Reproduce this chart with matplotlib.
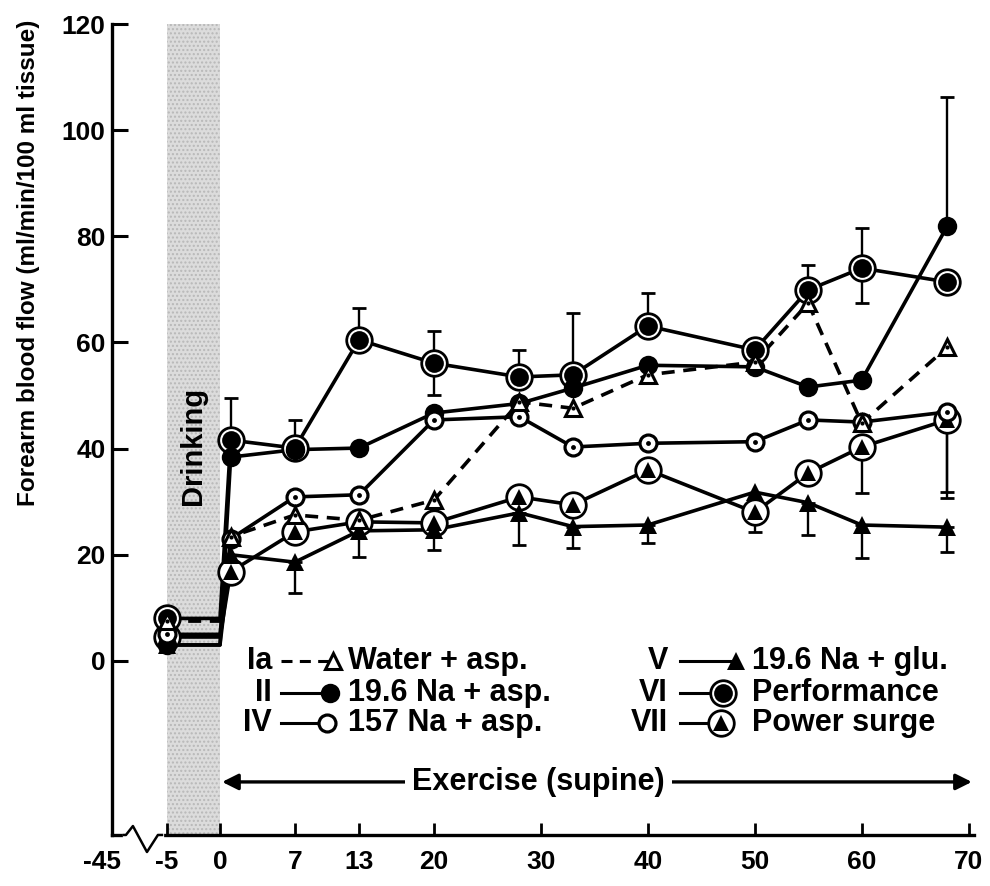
# Flujo sanguíneo del antebrazo durante ejercicio en supino

import numpy as np
import matplotlib
matplotlib.use('Agg')
import matplotlib.pyplot as plt

plt.rcParams['font.family'] = ['Liberation Sans', 'DejaVu Sans']
plt.rcParams['font.weight'] = 'bold'

# Datos

tiempo = [-5, 0, 1, 7, 13, 20, 28, 33, 40, 50, 55, 60, 68]

flujo_Ia = [7.5, 7.5, 23.4, 27.5, 26.5, 30.3, 48.8, 47.6, 53.9, 56.3, 67.4, 44.8, 59.1]
flujo_II = [3.0, 3.0, 38.4, 39.8, 40.1, 46.7, 48.5, 51.4, 55.7, 55.4, 51.6, 52.9, 81.9]
flujo_IV = [5.0, 5.0, 23.0, 30.9, 31.3, 45.4, 46.0, 40.3, 41.0, 41.3, 45.4, 45.0, 46.9]
flujo_V = [3.0, 3.0, 20.0, 18.6, 24.5, 24.7, 27.9, 25.3, 25.6, 31.8, 29.8, 25.6, 25.2]
flujo_VI = [8.0, 8.0, 41.6, 40.1, 60.5, 56.1, 53.5, 53.9, 63.1, 58.6, 69.9, 74.0, 71.4]
flujo_VII = [4.5, 4.5, 16.8, 24.3, 26.2, 26.0, 30.9, 29.4, 36.0, 28.0, 35.4, 40.3, 45.4]

# errores (inferior, superior); 0 = sin barra visible
err_VI_sup = [0, 0, 7.9, 5.2, 6.0, 6.0, 5.0, 11.6, 6.2, 2.0, 4.7, 7.5, 0]
err_VI_inf = [0, 0, 0, 0, 0, 6.0, 0, 0, 0, 0, 0, 6.6, 0]
err_II_sup = [0, 0, 0, 0, 0, 0, 0, 0, 0, 0, 0, 0, 24.3]
err_V_inf = [0, 0, 0, 5.8, 4.9, 3.8, 6.1, 4.0, 3.4, 0, 6.1, 6.2, 4.7]
err_VII_inf = [0, 0, 0, 0, 0, 0, 0, 0, 0, 3.7, 0, 8.7, 13.6]
err_IV_inf = [0, 0, 0, 0, 0, 0, 0, 0, 0, 0, 0, 0, 16.2]

ticks_x = [-45, -5, 0, 7, 13, 20, 30, 40, 50, 60, 70]
ticks_y = [0, 20, 40, 60, 80, 100, 120]

grupos = ['Ia', 'II', 'IV', 'V', 'VI', 'VII']
nombres = ['Water + asp.', '19.6 Na + asp.', '157 Na + asp.',
           '19.6 Na + glu.', 'Performance', 'Power surge']

# Escala con corte entre -45 y -5
k = 0.1275


def adelante(x):
    x = np.asarray(x, dtype=float)
    return np.where(x >= -5, x, -5 + (x + 5) * k)


def atras(t):
    t = np.asarray(t, dtype=float)
    return np.where(t >= -5, t, -5 + (t + 5) / k)


fig = plt.figure(figsize=(9.9, 8.86), dpi=100)
ax = fig.add_axes([0.1131, 0.0576, 0.8707, 0.9153])
ax.set_xscale('function', functions=(adelante, atras))
ax.set_xlim(-45, 70.5)
ax.set_ylim(-32.8, 120)

LW = 2.6
con_marca = [i for i in range(len(tiempo)) if tiempo[i] != 0]


def marcas(ax, y, estilo, z):
    xs = [tiempo[i] for i in con_marca]
    ys = [y[i] for i in con_marca]
    for m in estilo:
        ax.plot(xs, ys, ls='none', zorder=z, **m)


def barras(ax, y, inf, sup):
    idx = [i for i in range(len(tiempo)) if inf[i] > 0 or sup[i] > 0]
    if not idx:
        return
    ax.errorbar([tiempo[i] for i in idx], [y[i] for i in idx],
                yerr=[[inf[i] for i in idx], [sup[i] for i in idx]],
                fmt='none', ecolor='k', elinewidth=1.7, capsize=5, capthick=2.0,
                zorder=2.8)


# estilos de marcador
anillo = dict(marker='o', ms=18.4, mfc='white', mec='k', mew=2.0)
est_VI = [anillo, dict(marker='o', ms=13.5, mfc='k', mec='k', mew=0)]
est_VII = [anillo, dict(marker='^', ms=11, mfc='k', mec='k', mew=0)]
est_II = [dict(marker='o', ms=14, mfc='k', mec='k', mew=0)]
est_V = [dict(marker='^', ms=13, mfc='k', mec='k', mew=0)]
est_IV = [dict(marker='o', ms=12.2, mfc='white', mec='k', mew=2.3),
          dict(marker='o', ms=3.5, mfc='k', mec='k', mew=0)]
est_Ia = [dict(marker='^', ms=11, mfc='white', mec='k', mew=2.2),
          dict(marker='o', ms=3, mfc='k', mec='k', mew=0)]

# zona de bebida
ax.axvspan(-5, 0, facecolor='#dcdcdc', edgecolor='#b8b8b8', hatch='....',
           lw=0, zorder=0)
ax.text(-2.5, 40.5, 'Drinking', rotation=90, ha='center', va='center',
        fontsize=21, zorder=1)

# líneas
for y in [flujo_II, flujo_IV, flujo_V, flujo_VI, flujo_VII]:
    ax.plot(tiempo, y, color='k', lw=LW, zorder=3, solid_capstyle='butt')
ax.plot(tiempo, flujo_Ia, color='k', lw=LW, ls=(0, (3.6, 2.4)), zorder=3)

# barras de error
barras(ax, flujo_VI, err_VI_inf, err_VI_sup)
barras(ax, flujo_II, [0] * len(tiempo), err_II_sup)
barras(ax, flujo_V, err_V_inf, [0] * len(tiempo))
barras(ax, flujo_VII, err_VII_inf, [0] * len(tiempo))
barras(ax, flujo_IV, err_IV_inf, [0] * len(tiempo))

# marcadores
marcas(ax, flujo_VII, est_VII, 4)
marcas(ax, flujo_VI, est_VI, 4.2)
marcas(ax, flujo_II, est_II, 4.4)
marcas(ax, flujo_V, est_V, 4.5)
marcas(ax, flujo_IV, est_IV, 4.6)
marcas(ax, flujo_Ia, est_Ia, 4.8)

# ejes
for s in ['top', 'right']:
    ax.spines[s].set_visible(False)
for s in ['left', 'bottom']:
    ax.spines[s].set_linewidth(2.4)
ax.spines['left'].set_bounds(-32.8, 120)

ax.set_yticks(ticks_y)
ax.set_xticks(ticks_x)
ax.set_xticklabels([''] + [str(t) for t in ticks_x[1:]])
ax.tick_params(axis='y', direction='in', length=11.5, width=2.2, pad=4.5,
               labelsize=19)
ax.tick_params(axis='x', direction='in', length=8.6, width=2.0, pad=11,
               labelsize=19)
ax.xaxis.get_major_ticks()[0].tick1line.set_visible(False)
ax.annotate('-45', xy=(-45, 0), xycoords=('data', 'axes fraction'),
            xytext=(-7, -11), textcoords='offset points', ha='center', va='top',
            fontsize=19, annotation_clip=False)

ax.set_ylabel('Forearm blood flow (ml/min/100 ml tissue)', fontsize=17.5,
              fontweight='bold')
ax.yaxis.label.set_va('center')
ax.yaxis.set_label_coords(-0.0974, 0.705)

# corte del eje x
ax.plot([0.0162, 0.0568], [0, 0], color='white', lw=4.5, transform=ax.transAxes,
        clip_on=False, zorder=5)
ax.plot([0.0140, 0.0162, 0.0243, 0.0406, 0.0533, 0.0580], [0, 0, 0.011, -0.021, 0, 0],
        color='k', lw=1.8, transform=ax.transAxes, clip_on=False, zorder=6)

# flecha de ejercicio
y_flecha = 0.0654
ax.annotate('', xy=(70.3, y_flecha), xytext=(0.2, y_flecha),
            xycoords=('data', 'axes fraction'),
            arrowprops=dict(arrowstyle='<|-|>', color='k', lw=2.4,
                            mutation_scale=24, shrinkA=0, shrinkB=0))
ax.text(29.8, y_flecha, 'Exercise (supine)', transform=ax.get_xaxis_transform(),
        ha='center', va='center', fontsize=22,
        bbox=dict(facecolor='white', edgecolor='none', pad=5))

# leyenda manual: (columna, fila, estilo de línea, x del marcador, estilos)
filas = [0.2145, 0.175, 0.138]
columnas = [(0.1856, 0.196, 0.274), (0.645, 0.659, 0.742)]
leyenda = [
    (0, 0, (0, (3.6, 2.4)), 0.256,
     [dict(marker='^', ms=11, mfc='white', mec='k', mew=2.2)]),
    (0, 1, '-', 0.253, est_II),
    (0, 2, '-', 0.250, [dict(marker='o', ms=12.2, mfc='white', mec='k', mew=2.3)]),
    (1, 0, '-', 0.724, est_V),
    (1, 1, '-', 0.709, est_VI),
    (1, 2, '-', 0.707, est_VII),
]
for j, (c, f, ls, xm, est) in enumerate(leyenda):
    xr, x0, xt = columnas[c]
    yf = filas[f]
    ax.text(xr, yf, grupos[j], transform=ax.transAxes, ha='right', va='center',
            fontsize=22)
    ax.plot([x0, xm], [yf, yf], color='k', lw=2.2, ls=ls, transform=ax.transAxes,
            clip_on=False, zorder=4)
    for m in est:
        ax.plot([xm], [yf], ls='none', transform=ax.transAxes, clip_on=False,
                zorder=5, **m)
    ax.text(xt, yf, nombres[j], transform=ax.transAxes, ha='left', va='center',
            fontsize=22)

fig.savefig('out.png', dpi=100)
